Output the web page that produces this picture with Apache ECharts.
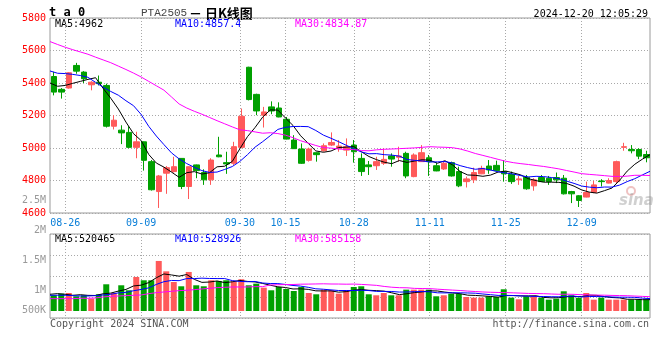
<!DOCTYPE html>
<html><head><meta charset="utf-8">
<script src="https://cdn.jsdelivr.net/npm/echarts@6/dist/echarts.min.js"></script>
<style>html,body{margin:0;padding:0;background:#fff}#c{width:660px;height:360px}</style>
</head><body><div id="c"></div>
<script>
// ---------- data ----------
const dates = ['08-22','08-23','08-26','08-27','08-28','08-29','08-30',
  '09-02','09-03','09-04','09-05','09-06','09-09','09-10','09-11','09-12','09-13',
  '09-18','09-19','09-20','09-23','09-24','09-25','09-26','09-27','09-30',
  '10-08','10-09','10-10','10-11','10-14','10-15','10-16','10-17','10-18',
  '10-21','10-22','10-23','10-24','10-25','10-28','10-29','10-30','10-31',
  '11-01','11-04','11-05','11-06','11-07','11-08','11-11','11-12','11-13','11-14','11-15',
  '11-18','11-19','11-20','11-21','11-22','11-25','11-26','11-27','11-28','11-29',
  '12-02','12-03','12-04','12-05','12-06','12-09','12-10','12-11','12-12','12-13',
  '12-16','12-17','12-18','12-19','12-20'];
const dateLabels = ['08-26','09-09','09-30','10-15','10-28','11-11','11-25','12-09'];

const opens = [5440,5361,5369,5508,5467,5389,5405,5385,5134,5110,5096,5004,5038,4916,4732,4845,4855,4936,4763,4896,
  4849,4804,4957,4910,4906,5004,5497,5330,5202,5253,5246,5177,5049,4994,4924,4971,4983,5018,4998,4987,
  5018,4936,4896,4891,4906,4951,4943,4967,4824,4916,4940,4891,4871,4910,4855,4793,4804,4841,4889,4893,
  4855,4838,4804,4820,4767,4818,4814,4818,4814,4732,4706,4698,4726,4797,4784,4793,5004,4991,4991,4960];
const closes = [5344,5344,5463,5473,5426,5405,5396,5134,5171,5093,5004,5038,4924,4743,4828,4879,4885,4763,4885,4861,
  4804,4926,4946,4902,5008,5195,5298,5228,5222,5228,5191,5055,4996,4906,4994,4959,5014,5034,5012,5008,
  4977,4855,4885,4916,4930,4932,4951,4828,4957,4971,4916,4859,4906,4828,4767,4810,4849,4875,4865,4861,
  4841,4793,4810,4749,4804,4793,4793,4804,4718,4718,4677,4726,4773,4793,4800,4916,5008,4983,4950,4940];
const lows = [5324,5304,5365,5457,5400,5355,5385,5126,5114,5024,4998,4937,4861,4738,4631,4718,4849,4747,4686,4814,
  4773,4773,4943,4841,4896,4998,5293,5202,5126,5208,5189,5053,4994,4902,4916,4916,4977,5012,4977,4951,
  4910,4828,4834,4865,4896,4885,4916,4814,4820,4914,4828,4857,4865,4824,4759,4757,4784,4839,4841,4859,
  4793,4779,4773,4743,4737,4791,4773,4784,4714,4661,4637,4696,4722,4763,4782,4779,4983,4967,4931,4912];
const highs = [5469,5369,5467,5524,5473,5411,5446,5396,5202,5140,5134,5100,5040,4926,4834,4889,4946,4938,4887,4898,
  4869,4937,5069,4977,5038,5243,5500,5334,5253,5287,5281,5191,5079,5028,5002,4973,5028,5096,5049,5059,
  5049,4967,4920,4946,4998,4967,5008,4977,4967,5018,4957,4910,4916,4916,4885,4824,4879,4891,4926,4922,
  4926,4855,4828,4834,4814,4834,4828,4849,4834,4736,4710,4793,4797,4808,4814,4922,5032,5018,4998,4983];

const volumes = [616000,652000,667000,594000,616000,542000,638000,858000,667000,836000,
  726000,1019000,946000,946000,1371000,1143000,909000,814000,1129000,836000,
  814000,946000,931000,946000,924000,968000,836000,872000,784000,726000,
  799000,755000,711000,799000,667000,638000,740000,726000,652000,726000,
  799000,814000,638000,616000,667000,616000,616000,740000,740000,740000,
  740000,594000,616000,652000,652000,579000,564000,564000,594000,579000,
  748000,564000,528000,594000,594000,564000,520000,542000,704000,616000,
  564000,667000,520000,564000,520000,520000,520000,520000,520000,520000];

// moving-average values before enough history exists
const ma5Head = [5400,5380,5385,5398];
const ma10Head = [5474,5460,5458,5453,5446,5435,5404,5374,5348];
const ma30Head = [5655,5637,5620,5605,5591,5577,5559,5542,5525,5504,5483,5461,5437,5410,5383,5356,5314,5271,5246,5226,
  5208,5188,5168,5149,5130,5112,5107,5099,5091];
const vma5Head = [638000,652000,638000,616000];
const vma10Head = [616000,616000,616000,608000,601000,601000,608000,623000,638000];
const vma30Head = [542000,542000,542000,542000,550000,550000,557000,579000,594000,601000,608000,616000,623000,652000,
  674000,689000,704000,718000,726000,740000,755000,770000,784000,792000,799000,799000,799000,806000,806000];

const priceTicks = {min: 4600, max: 5800, step: 200};
const volTicks = {min: 500000, max: 2500000, step: 500000};
const legendPrice = ['MA5:4962', 'MA10:4857.4', 'MA30:4834.87'];
const legendVol = ['MA5:520465', 'MA10:528926', 'MA30:585158'];

// ---------- helpers ----------
function movingAvg(vals, n, head) {
  return vals.map((v, i) => {
    if (i < n - 1) return head[i];
    let s = 0;
    for (let k = i - n + 1; k <= i; k++) s += vals[k];
    return +(s / n).toFixed(2);
  });
}
const RED = '#ff5a5a', GREEN = '#00a000';
const MONO = '"DejaVu Sans Mono", monospace';
const dotted = {color: '#a8a8a8', width: 1, type: [1, 2]};
const isLabelDate = (idx, val) => dateLabels.indexOf(val) >= 0;

const candleData = dates.map((d, i) => [opens[i], closes[i], lows[i], highs[i]]);
const volData = volumes.map((v, i) => ({value: v, itemStyle: {color: closes[i] > opens[i] ? RED : GREEN}}));

const chart = echarts.init(document.getElementById('c'), null, {renderer: 'canvas'});

function txt(x, y, text, fill, font, align) {
  return {type: 'text', x: x, y: y, silent: true,
    style: {text: text, fill: fill, font: font, align: align || 'left', verticalAlign: 'middle'}};
}

chart.setOption({
  animation: false,
  backgroundColor: '#fff',
  grid: [
    {left: 50, right: 10, top: 18, height: 195, show: true, borderColor: '#9a9a9a', borderWidth: 1, backgroundColor: 'transparent'},
    {left: 50, right: 10, top: 234, height: 84, show: true, borderColor: '#9a9a9a', borderWidth: 1, backgroundColor: 'transparent'},
    {left: 50, right: 10, top: 200, height: 120, show: false},
    {left: 50, right: 10, top: 234, height: 77, show: false}
  ],
  xAxis: [
    {gridIndex: 0, type: 'category', data: dates, boundaryGap: true, show: false, position: 'top'},
    {gridIndex: 0, type: 'category', data: dates, boundaryGap: false, position: 'bottom',
      axisLine: {show: false}, axisTick: {show: false},
      axisLabel: {interval: isLabelDate, color: '#0a7fd8', fontFamily: MONO, fontSize: 10, margin: 5},
      splitLine: {show: true, interval: isLabelDate, lineStyle: dotted}},
    {gridIndex: 1, type: 'category', data: dates, boundaryGap: false, position: 'bottom',
      axisLine: {show: false}, axisTick: {show: false}, axisLabel: {show: false},
      splitLine: {show: true, interval: isLabelDate, lineStyle: dotted}},
    {gridIndex: 2, type: 'category', data: dates, show: false},
    {gridIndex: 3, type: 'category', data: dates, boundaryGap: true, show: false, position: 'bottom'},
    {gridIndex: 3, type: 'category', data: dates, boundaryGap: false, show: false, position: 'top'}
  ],
  yAxis: [
    {gridIndex: 0, type: 'value', min: priceTicks.min, max: priceTicks.max, interval: priceTicks.step,
      axisLine: {show: false}, axisTick: {show: false},
      axisLabel: {color: '#ff0000', fontFamily: MONO, fontSize: 10, margin: 4, formatter: function (v) { return String(v); }},
      splitLine: {show: true, lineStyle: dotted}},
    {gridIndex: 1, type: 'value', min: 0, max: 4, interval: 1,
      axisLine: {show: false}, axisTick: {show: false}, axisLabel: {show: false},
      splitLine: {show: true, lineStyle: dotted}},
    {gridIndex: 2, type: 'value', min: volTicks.min, max: volTicks.max, interval: volTicks.step,
      axisLine: {show: false}, axisTick: {show: false}, splitLine: {show: false},
      axisLabel: {color: '#9a9a9a', fontFamily: MONO, fontSize: 10, margin: 4,
        formatter: function (v) {
          const s = v >= 1e6 ? (v / 1e6) + 'M' : (v / 1e3) + 'K';
          return v === volTicks.min ? '{low|' + s + '}' : s;
        },
        rich: {low: {color: '#9a9a9a', fontFamily: MONO, fontSize: 10, padding: [0, 0, 20, 0]}}}},
    {gridIndex: 3, type: 'value', min: 270500, max: 1964000, show: false, splitLine: {show: false}}
  ],
  series: [
    {type: 'candlestick', xAxisIndex: 0, yAxisIndex: 0, data: candleData, barWidth: 6,
      itemStyle: {color: RED, color0: GREEN, borderColor: RED, borderColor0: GREEN, borderWidth: 1}},
    {type: 'line', xAxisIndex: 1, yAxisIndex: 0, data: movingAvg(closes, 5, ma5Head), symbol: 'none',
      lineStyle: {color: '#000', width: 1}, z: 5},
    {type: 'line', xAxisIndex: 1, yAxisIndex: 0, data: movingAvg(closes, 10, ma10Head), symbol: 'none',
      lineStyle: {color: '#0000ff', width: 1}, z: 5},
    {type: 'line', xAxisIndex: 1, yAxisIndex: 0, data: movingAvg(closes, 30, ma30Head), symbol: 'none',
      lineStyle: {color: '#ff00ff', width: 1}, z: 5},
    {type: 'bar', xAxisIndex: 4, yAxisIndex: 3, data: volData, barWidth: 6},
    {type: 'line', xAxisIndex: 5, yAxisIndex: 3, data: movingAvg(volumes, 5, vma5Head), symbol: 'none',
      lineStyle: {color: '#000', width: 1}, z: 5},
    {type: 'line', xAxisIndex: 5, yAxisIndex: 3, data: movingAvg(volumes, 10, vma10Head), symbol: 'none',
      lineStyle: {color: '#0000ff', width: 1}, z: 5},
    {type: 'line', xAxisIndex: 5, yAxisIndex: 3, data: movingAvg(volumes, 30, vma30Head), symbol: 'none',
      lineStyle: {color: '#ff00ff', width: 1}, z: 5}
  ],
  graphic: [
    txt(49, 13, 't a 0', '#000', 'bold 12px ' + MONO),
    txt(141, 13, 'PTA2505', '#444', '11px "Liberation Mono", monospace'),
    txt(189, 13, '－ 日K线图', '#000', 'bold 13px "Noto Sans CJK SC"'),
    txt(648, 14, '2024-12-20 12:05:29', '#000', '10px ' + MONO, 'right'),
    txt(55, 24, legendPrice[0], '#000', '10px ' + MONO),
    txt(175, 24, legendPrice[1], '#0000ff', '10px ' + MONO),
    txt(295, 24, legendPrice[2], '#ff00ff', '10px ' + MONO),
    txt(55, 239, legendVol[0], '#000', '10px ' + MONO),
    txt(175, 239, legendVol[1], '#0000ff', '10px ' + MONO),
    txt(295, 239, legendVol[2], '#ff00ff', '10px ' + MONO),
    txt(50, 324, 'Copyright 2024 SINA.COM', '#555', '10px ' + MONO),
    txt(649, 324, 'http://finance.sina.com.cn', '#555', '10px ' + MONO, 'right'),
    {type: 'circle', silent: true, shape: {cx: 631, cy: 191, r: 4},
      style: {fill: 'none', stroke: 'rgba(220,120,120,0.45)', lineWidth: 2}},
    txt(619, 201, 'sina', 'rgba(150,150,150,0.45)', 'italic bold 15px "DejaVu Sans"')
  ]
});
</script>
</body></html>
